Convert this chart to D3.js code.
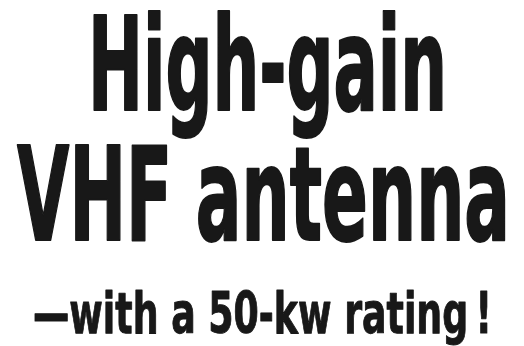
<!DOCTYPE html>
<html>
<head>
<meta charset="utf-8">
<script src="https://cdn.jsdelivr.net/npm/d3@7"></script>
<style>
  html, body { margin: 0; padding: 0; background: #fff; }
  svg { display: block; }
</style>
</head>
<body>
<div id="plot"></div>
<script>
let svgWidth = 524;
let svgHeight = 346;

// headline text, one entry per line
let headlineLines = ['High-gain', 'VHF antenna', '\u2014with a 50-kw rating\u2009!'];

// layout for each line: left edge, right edge, baseline, cap height
let lineLayout = [
    { x0: 88, x1: 447, base: 110, cap: 95, stroke: 2 },
    { x0: 17, x1: 510, base: 240, cap: 95, stroke: 2 },
    { x0: 33, x1: 492, base: 333, cap: 42, stroke: 1 }
];

// DejaVu Sans cap height as a share of the em
let capRatio = 0.729;

let $svg = d3.select('#plot')
    .append('svg')
    .attr('width', svgWidth)
    .attr('height', svgHeight);

$svg.append('rect')
    .attr('width', svgWidth)
    .attr('height', svgHeight)
    .attr('fill', '#fff');

$svg.selectAll('text.headline')
    .data(headlineLines)
    .enter()
    .append('text')
    .attr('class', 'headline')
    .attr('x', (d, i) => lineLayout[i].x0)
    .attr('y', (d, i) => lineLayout[i].base)
    .attr('textLength', (d, i) => lineLayout[i].x1 - lineLayout[i].x0)
    .attr('lengthAdjust', 'spacingAndGlyphs')
    .style('font-family', '"DejaVu Sans Condensed", "DejaVu Sans", sans-serif')
    .style('font-weight', 'bold')
    .style('font-size', (d, i) => (lineLayout[i].cap / capRatio) + 'px')
    .attr('fill', '#181818')
    .attr('stroke', '#181818')
    .attr('stroke-width', (d, i) => lineLayout[i].stroke)
    .attr('stroke-linejoin', 'round')
    .text(d => d);
</script>
</body>
</html>
